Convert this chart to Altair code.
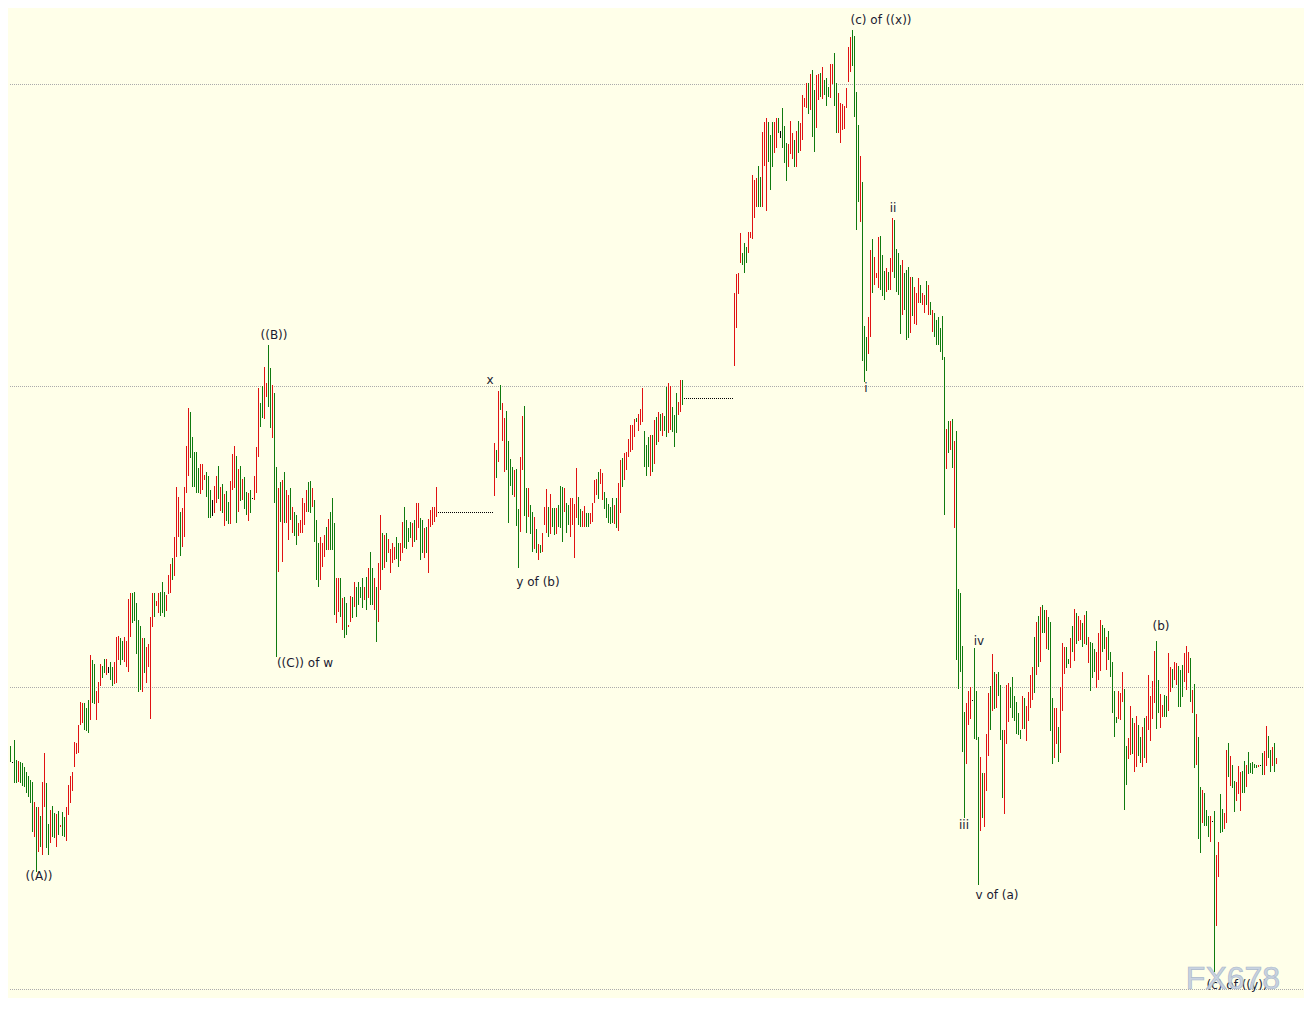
import altair as alt
import pandas as pd

# ---- bar data (price points; one bar per session, left to right) ----
bar_high = [
    273,269,259,251,254,238,260,240,239,238,237,233,228,224,220,218,198,193,193,184,
    218,247,217,176,190,194,187,186,189,175,188,183,193,215,224,228,258,257,275,298,
    297,297,292,300,345,340,336,309,318,336,334,341,341,333,338,333,338,363,364,362,
    359,363,359,401,407,407,408,397,380,374,362,362,353,356,383,407,407,399,407,408,
    418,408,405,425,436,442,463,513,503,488,492,513,554,592,588,563,548,548,532,536,
    536,525,528,524,510,500,514,524,534,513,516,506,509,498,519,546,554,544,531,534,
    521,523,508,507,510,502,524,553,612,597,614,633,617,655,632,615,607,533,512,518,
    520,528,510,505,512,493,488,485,477,480,502,497,510,518,519,512,500,480,457,463,
    457,465,473,481,488,502,477,422,422,422,402,403,397,375,404,403,418,413,418,413,
    422,413,423,432,448,432,422,413,437,485,467,465,467,461,451,457,453,463,457,457,
    478,493,480,472,478,477,480,497,497,482,480,472,473,481,490,493,493,513,488,488,
    488,488,488,488,488,488,488,488,488,488,488,488,488,488,488,488,488,488,488,488,
    488,488,488,488,488,488,557,550,609,615,597,582,589,559,541,533,530,531,491,543,
    584,594,512,512,495,488,483,471,456,455,467,493,511,493,506,492,492,492,495,514,
    513,512,497,495,502,502,496,532,503,491,489,494,487,487,487,497,520,521,528,531,
    527,508,502,496,493,502,495,502,517,540,542,547,548,561,575,575,581,582,586,591,
    612,569,555,563,565,565,580,583,588,586,587,584,613,617,614,593,585,607,598,620,
    620,602,602,602,602,602,602,602,602,602,602,602,602,602,602,602,602,602,602,602,
    602,602,602,602,602,602,707,726,727,767,747,757,753,768,768,825,820,822,834,823,
    868,878,882,878,865,878,878,882,882,869,892,874,857,856,879,867,860,869,879,877,
    905,902,917,917,926,930,910,925,926,927,933,920,922,913,936,936,947,917,907,897,
    896,894,912,953,963,970,964,908,875,844,818,674,663,683,750,761,743,727,763,764,
    745,729,732,728,742,782,780,751,747,735,740,727,730,733,723,723,713,707,722,715,
    707,705,719,715,698,690,687,680,683,672,684,643,571,579,579,581,559,569,411,407,
    354,288,297,309,313,300,352,309,263,243,227,227,266,307,314,346,328,326,328,315,
    270,270,315,317,313,323,304,298,287,270,304,302,294,308,325,333,363,378,384,393,
    395,390,390,383,378,302,292,292,273,313,357,353,353,341,362,374,391,387,384,380,
    377,385,389,363,358,357,351,348,367,380,375,372,363,369,348,338,309,283,309,307,
    328,311,254,262,294,282,277,284,275,263,273,282,284,325,304,319,349,359,320,306,
    295,305,304,347,333,331,338,337,334,330,335,347,354,348,342,310,316,286,263,213,
    210,207,190,184,184,179,189,145,158,206,191,187,250,257,244,235,219,218,234,228,
    229,239,235,248,237,238,236,235,235,235,247,249,274,264,250,253,257,242,
]

bar_low = [
    257,239,237,232,238,238,217,217,218,217,214,213,207,203,197,168,163,128,148,153,
    145,193,152,145,157,163,162,153,165,173,164,163,159,185,197,209,233,246,247,275,
    277,270,269,267,280,297,296,280,297,314,322,327,325,327,320,314,316,317,340,335,
    340,338,333,328,363,377,379,346,308,310,308,327,317,333,281,373,383,394,387,384,
    387,383,389,406,407,420,424,443,463,444,453,463,507,524,542,513,513,507,507,506,
    510,520,503,482,482,484,487,497,501,489,487,474,479,476,476,510,512,477,488,499,
    500,491,485,479,487,502,500,507,543,573,582,581,603,593,572,562,497,343,428,478,
    438,477,477,460,480,467,464,455,464,467,467,475,488,488,487,493,458,420,413,420,
    433,443,450,450,450,450,385,377,388,383,370,362,365,373,378,382,393,383,395,402,
    392,400,390,402,395,395,390,358,378,410,430,432,438,447,427,437,440,441,433,439,
    447,452,451,458,462,453,458,460,472,440,447,442,447,427,473,475,478,483,488,488,
    488,488,488,488,488,488,488,488,488,488,488,488,488,488,488,488,488,488,488,488,
    488,488,488,488,488,488,504,522,538,590,559,528,530,477,514,505,503,474,432,468,
    530,484,467,483,466,448,451,447,440,447,448,475,467,463,466,473,465,466,473,472,
    458,488,467,475,463,475,442,482,475,473,473,473,473,473,476,478,497,505,501,516,
    500,491,482,477,476,477,476,472,469,487,513,520,530,543,548,550,563,578,569,575,
    578,533,524,533,524,528,536,555,558,569,564,569,563,567,570,568,553,567,585,588,
    595,602,602,602,602,602,602,602,602,602,602,602,602,602,602,602,602,602,602,602,
    602,602,602,602,602,602,634,672,706,737,735,727,737,747,762,761,782,793,793,793,
    793,834,789,838,810,833,847,852,867,862,852,837,819,833,846,841,833,833,847,849,
    860,893,892,886,890,863,848,872,900,903,901,905,894,903,902,916,894,867,867,857,
    870,871,892,918,928,934,883,770,798,778,639,618,629,646,663,707,715,722,712,710,
    704,700,708,710,710,728,722,708,705,666,685,690,660,662,667,684,676,675,697,697,
    695,687,695,685,685,668,663,655,655,648,640,485,531,547,550,532,472,340,311,328,
    248,182,236,275,281,300,261,260,115,169,182,173,209,244,270,289,291,292,304,260,
    202,186,256,278,292,282,279,266,265,261,271,271,259,279,292,300,307,325,333,338,
    367,367,351,350,269,236,242,256,238,247,289,326,332,336,332,348,339,356,359,360,
    353,356,355,337,309,322,328,312,320,329,348,351,330,340,323,287,263,277,281,280,
    298,190,215,241,245,246,228,233,244,237,233,242,237,270,259,281,297,271,287,272,
    283,283,283,289,308,312,320,315,293,293,303,318,310,327,298,287,232,235,161,147,
    177,174,174,163,158,179,28,74,123,167,168,171,177,223,214,212,188,199,206,189,
    207,207,213,226,227,226,232,232,233,235,225,225,234,242,228,234,228,236,
]

# G = up bar, R = down bar, K = unchanged
bar_dir = (
    "GGGRGKGGRGGGGGGGRGRG" "RRGGRGGRGRGGRRRRRRRR" "RGGGRGGRRRGGRKGGRRRG"
    "GRRRRGGGGGRGRRRRGRRG" "GGRRRGRRRGRRRRGGGGGR" "RRGGGKRRGRGRGGRRRGRG"
    "RGGRGKRRRGGRRGGRGGRG" "RGRRGRGGRRRRRGGRGGGR" "RRGRGGGRRGRGGRRGRGGG"
    "GRGRGGRGRRGRGRRRRGGR" "RGGGGRGRRGGRGRRRRRKK" "KKKKKKKKKKKKKKKKKKKK"
    "KKKKKKRGRGRRGGGGRGGR" "RGGRGGRGRGRRRGRGGRGG" "GRGGRRRRGGRRGGRRRRGR"
    "RGGGGGRGRRGRRRRRRGRR" "RGGGRGRGRGRGGRRGGGRR" "GKKKKKKKKKKKKKKKKKKK"
    "KKKKKKRRRRGGGRRRRRGG" "RRRGGGRRGKGGGRRRGRGR" "RRRGRGGRRGRGGGRRGGRR"
    "RRRRRGGGGRGGGRRGRRRG" "GGRGRRGGGGRGGGRGRRRG" "RRGRGRGGGGGGRGRGRGGG"
    "GGRRRKGGGRGRRRGRGRGG" "GRRRGGGGGGRGRRRRGRGR" "GGRGGGRRGRRRGGRGRGRR"
    "GRGRGGGRRRGGRGGGGGRR" "RGGRRGRRGGRGRRRRRGGR" "RGGRRGRRGGGRRRGRGRGG"
    "RGGGRKGRRGGRRGRGGRRR" "GGRGGGGGRKGRRGGRGR"
)

# horizontal price levels (dotted grid)
grid_levels = [915.5, 613.5, 312.5, 10.5]

# wave labels: text, bar position, price level
label_text = ["((A))", "((B))", "((C)) of w", "x", "y of (b)", "(c) of ((x))",
              "i", "ii", "iii", "iv", "v of (a)", "(b)", "(c) of ((y))"]
label_bar = [19.25, 136.75, 152.25, 244.75, 268.75, 440.25,
             432.75, 446.25, 481.75, 489.25, 498.25, 580.25, 618.25]
label_price = [124, 665, 337, 620, 418, 980,
               612, 792, 175, 359, 105, 374, 15]

watermark_text = ["FX678"]
watermark_bar = [616.25]
watermark_price = [21]

# ---- build ----
W, H = 1294, 990
X0 = 4.25
xscale = alt.Scale(domain=[X0, X0 + W / 2], nice=False, zero=False)
yscale = alt.Scale(domain=[992 - H, 992], nice=False, zero=False)

n = min(len(bar_high), len(bar_low), len(bar_dir))
bars = pd.DataFrame({
    "bar": list(range(1, n + 1)),
    "high": bar_high[:n],
    "low": bar_low[:n],
    "dir": list(bar_dir[:n]),
})
bars["low_draw"] = [lo - 1 if hi == lo else lo for hi, lo in zip(bars["high"], bars["low"])]

grid_df = pd.DataFrame({"level": grid_levels})
labels_df = pd.DataFrame({"text": label_text, "bar": label_bar, "price": label_price})
wm_df = pd.DataFrame({"text": watermark_text, "bar": watermark_bar, "price": watermark_price})

grid = alt.Chart(grid_df).mark_rule(
    color="#ABABAB", strokeWidth=1, strokeDash=[1, 1]
).encode(
    y=alt.Y("level:Q", scale=yscale, axis=None)
)

bar_layer = alt.Chart(bars).mark_rule(strokeWidth=1, clip=True).encode(
    x=alt.X("bar:Q", scale=xscale, axis=None),
    y=alt.Y("high:Q", scale=yscale, axis=None),
    y2=alt.Y2("low_draw:Q"),
    color=alt.Color("dir:N",
                    scale=alt.Scale(domain=["G", "R", "K"],
                                    range=["#0F7A0F", "#E01212", "#000000"]),
                    legend=None),
)

labels = alt.Chart(labels_df).mark_text(
    font="DejaVu Sans", fontSize=12, color="#1A1A30",
    align="center", baseline="middle"
).encode(
    x=alt.X("bar:Q", scale=xscale, axis=None),
    y=alt.Y("price:Q", scale=yscale, axis=None),
    text="text:N",
)

watermark = alt.Chart(wm_df).mark_text(
    font="Liberation Sans", fontSize=32, color="#C6D1E1", opacity=0.95,
    align="center", baseline="middle", stroke="#A8B6CA", strokeWidth=0.7
).encode(
    x=alt.X("bar:Q", scale=xscale, axis=None),
    y=alt.Y("price:Q", scale=yscale, axis=None),
    text="text:N",
)

chart = alt.layer(grid, bar_layer, labels, watermark).properties(
    width=W, height=H, padding=0, background="#FFFFE9"
).configure_view(strokeWidth=0)

chart.save("out.html", embed_options={"renderer": "svg", "actions": False})
